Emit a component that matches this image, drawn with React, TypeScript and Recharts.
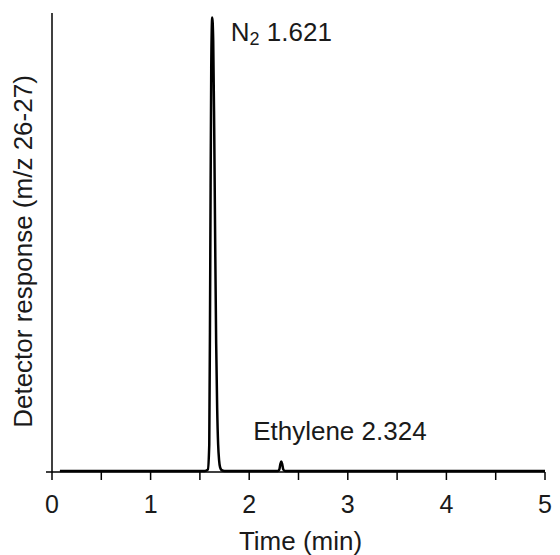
import React from "react";
import { LineChart, Line, XAxis, YAxis, ReferenceDot, Label } from "recharts";

const times = [0.08, 1.55, 1.58, 1.595, 1.605, 1.615, 1.625, 1.635, 1.645, 1.655, 1.665, 1.675, 1.685, 1.695, 1.705, 1.72, 1.75, 2.29, 2.305, 2.315, 2.325, 2.335, 2.345, 2.36, 2.38, 5.0];
const response = [0.2, 0.2, 0.5, 6, 45, 88, 99, 94, 75, 50, 28, 14, 6, 2.5, 1, 0.4, 0.2, 0.2, 0.5, 1.6, 2.3, 1.7, 0.6, 0.25, 0.2, 0.2];
const xTicks = [0, 0.5, 1, 1.5, 2, 2.5, 3, 3.5, 4, 4.5, 5];
const peaks = [
  { name: "N2", time: 1.621, height: 99, text: "1.621" },
  { name: "Ethylene", time: 2.324, height: 2.3, text: "2.324" },
];

const data = times.map((t, i) => ({ t, v: response[i] }));

const FONT = "'Liberation Sans', Arial, Helvetica, sans-serif";
const TEXT = "#1a1a1a";

const N2Label = (props: any) => {
  const vb = props.viewBox || {};
  const x = vb.x + (vb.width || 0) / 2 + 19;
  const y = vb.y + (vb.height || 0) / 2 + 23;
  return (
    <text x={x} y={y} fontFamily={FONT} fontSize={26} fill={TEXT}>
      <tspan>N</tspan>
      <tspan dy={4} fontSize={18}>2</tspan>
      <tspan dy={-4}>{" " + peaks[0].text}</tspan>
    </text>
  );
};

const EthLabel = (props: any) => {
  const vb = props.viewBox || {};
  const x = vb.x + (vb.width || 0) / 2 - 28;
  const y = vb.y + (vb.height || 0) / 2 - 21;
  return (
    <text x={x} y={y} fontFamily={FONT} fontSize={26} fill={TEXT}>
      {peaks[1].name + " " + peaks[1].text}
    </text>
  );
};

const YLabel = (props: any) => {
  const vb = props.viewBox || {};
  const cx = vb.x + 23;
  const cy = vb.y + vb.height / 2 + 9;
  return (
    <text
      x={cx}
      y={cy}
      transform={`rotate(-90, ${cx}, ${cy})`}
      textAnchor="middle"
      dominantBaseline="central"
      fontFamily={FONT}
      fontSize={26}
      fill={TEXT}
    >
      Detector response (m/z 26-27)
    </text>
  );
};

const XLabel = (props: any) => {
  const vb = props.viewBox || {};
  const cx = vb.x + vb.width / 2 + 2;
  const cy = vb.y + 78;
  return (
    <text x={cx} y={cy} textAnchor="middle" fontFamily={FONT} fontSize={26} fill={TEXT}>
      Time (min)
    </text>
  );
};

export default function App() {
  return (
    <div style={{ position: "absolute", left: 0, top: 0, width: 560, height: 555, background: "#fff" }}>
      <LineChart width={560} height={555} data={data} margin={{ top: 13, right: 15, bottom: 0, left: 0 }}>
        <XAxis
          dataKey="t"
          type="number"
          domain={[0, 5]}
          ticks={xTicks}
          interval={0}
          tickFormatter={(v: number) => (Number.isInteger(v) ? String(v) : "")}
          tickSize={8}
          tickMargin={15}
          stroke="#000"
          strokeWidth={1.5}
          tick={{ fontSize: 25, fill: TEXT, fontFamily: FONT }}
          height={83}
        >
          <Label content={<XLabel />} />
        </XAxis>
        <YAxis
          type="number"
          domain={[0, 100]}
          ticks={[0]}
          tickFormatter={() => ""}
          tickSize={6}
          width={52}
          stroke="#000"
          strokeWidth={1.5}
        >
          <Label content={<YLabel />} />
        </YAxis>
        <Line
          type="monotone"
          dataKey="v"
          stroke="#000"
          strokeWidth={2.5}
          dot={false}
          isAnimationActive={false}
        />
        <ReferenceDot x={peaks[0].time} y={peaks[0].height} r={0} fill="none" stroke="none" label={<N2Label />} />
        <ReferenceDot x={peaks[1].time} y={peaks[1].height} r={0} fill="none" stroke="none" label={<EthLabel />} />
      </LineChart>
    </div>
  );
}
